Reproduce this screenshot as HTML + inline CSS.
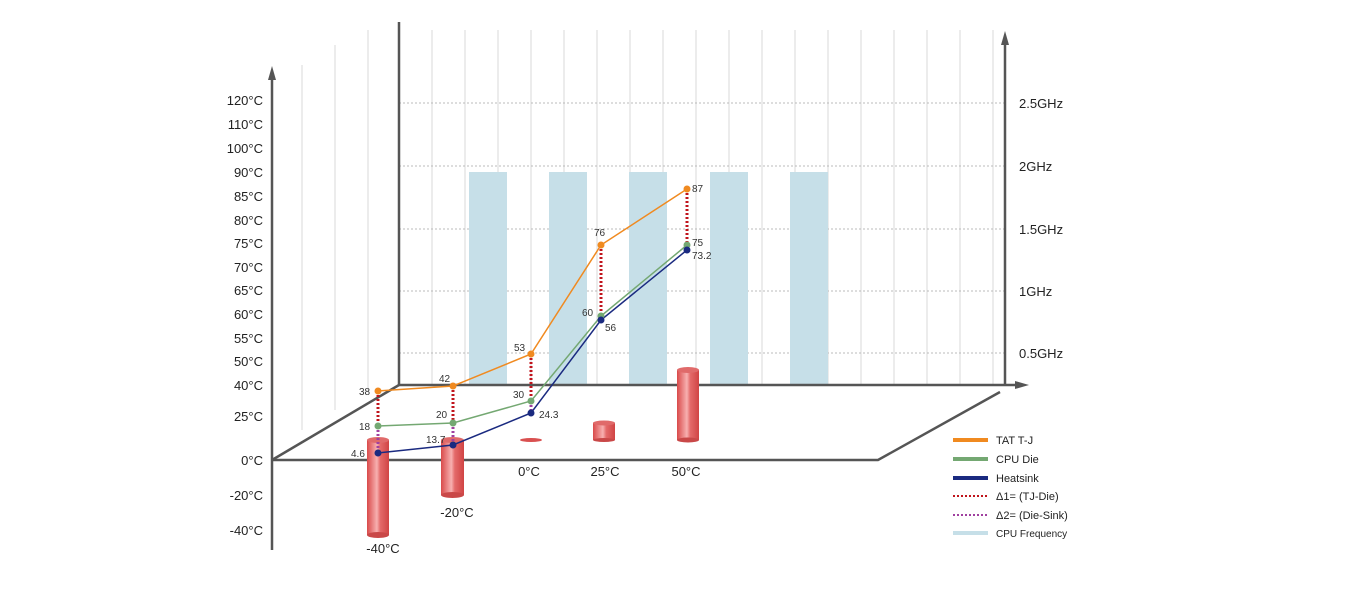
<!DOCTYPE html>
<html><head><meta charset="utf-8"><style>body{margin:0;background:#fff}svg{display:block}text{font-family:"Liberation Sans",sans-serif}</style></head><body>
<svg width="1354" height="590" viewBox="0 0 1354 590" xmlns="http://www.w3.org/2000/svg">
<defs>
<linearGradient id="cyl" x1="0" x2="1"><stop offset="0" stop-color="#d94a4a"/><stop offset="0.45" stop-color="#f7b0b0"/><stop offset="0.6" stop-color="#e46a6a"/><stop offset="1" stop-color="#d04444"/></linearGradient>
</defs>
<g stroke="#d8d8d8" stroke-width="1">
<line x1="302" y1="65" x2="302" y2="430"/><line x1="335" y1="45" x2="335" y2="410"/><line x1="368" y1="30" x2="368" y2="392"/>
<line x1="432" y1="30" x2="432" y2="385"/><line x1="465" y1="30" x2="465" y2="385"/><line x1="498" y1="30" x2="498" y2="385"/><line x1="531" y1="30" x2="531" y2="385"/><line x1="564" y1="30" x2="564" y2="385"/><line x1="597" y1="30" x2="597" y2="385"/><line x1="630" y1="30" x2="630" y2="385"/><line x1="663" y1="30" x2="663" y2="385"/><line x1="696" y1="30" x2="696" y2="385"/><line x1="729" y1="30" x2="729" y2="385"/><line x1="762" y1="30" x2="762" y2="385"/><line x1="795" y1="30" x2="795" y2="385"/><line x1="828" y1="30" x2="828" y2="385"/><line x1="861" y1="30" x2="861" y2="385"/><line x1="894" y1="30" x2="894" y2="385"/><line x1="927" y1="30" x2="927" y2="385"/><line x1="960" y1="30" x2="960" y2="385"/><line x1="993" y1="30" x2="993" y2="385"/>
</g>
<g stroke="#bbb" stroke-dasharray="2,2"><line x1="399" y1="103" x2="1005" y2="103"/><line x1="399" y1="166" x2="1005" y2="166"/><line x1="399" y1="229" x2="1005" y2="229"/><line x1="399" y1="291" x2="1005" y2="291"/><line x1="399" y1="353" x2="1005" y2="353"/></g>
<g fill="#c6dfe8"><rect x="469" y="172" width="38" height="213"/><rect x="549" y="172" width="38" height="213"/><rect x="629" y="172" width="38" height="213"/><rect x="710" y="172" width="38" height="213"/><rect x="790" y="172" width="38" height="213"/></g>
<g stroke="#555" stroke-width="2.5" fill="none">
<line x1="272" y1="550" x2="272" y2="72"/><line x1="399" y1="385" x2="399" y2="22"/><line x1="399" y1="385" x2="1022" y2="385"/><line x1="1005" y1="385" x2="1005" y2="38"/>
<polyline points="272,460 878,460 1000,392"/><line x1="272" y1="460" x2="399" y2="385"/>
</g>
<g fill="#555"><path d="M268,80 L272,66 L276,80Z"/><path d="M1001,45 L1005,31 L1009,45Z"/><path d="M1015,381 L1029,385 L1015,389Z"/></g>
<g font-size="13" fill="#222" text-anchor="end">
<text x="263" y="105">120°C</text><text x="263" y="129">110°C</text><text x="263" y="153">100°C</text><text x="263" y="177">90°C</text><text x="263" y="201">85°C</text><text x="263" y="225">80°C</text><text x="263" y="248">75°C</text><text x="263" y="272">70°C</text><text x="263" y="295">65°C</text><text x="263" y="319">60°C</text><text x="263" y="343">55°C</text><text x="263" y="366">50°C</text><text x="263" y="390">40°C</text><text x="263" y="421">25°C</text><text x="263" y="465">0°C</text><text x="263" y="500">-20°C</text><text x="263" y="535">-40°C</text>
</g>
<g font-size="13" fill="#222"><text x="1019" y="108">2.5GHz</text><text x="1019" y="171">2GHz</text><text x="1019" y="234">1.5GHz</text><text x="1019" y="296">1GHz</text><text x="1019" y="358">0.5GHz</text></g>
<g fill="url(#cyl)">
<rect x="367" y="440" width="22" height="95"/><ellipse cx="378" cy="535" rx="11" ry="3" fill="#c94848"/><ellipse cx="378" cy="440" rx="11" ry="3" fill="#e06a6a"/>
<rect x="441" y="440" width="23" height="55"/><ellipse cx="452.5" cy="495" rx="11.5" ry="3" fill="#c94848"/><ellipse cx="452.5" cy="440" rx="11.5" ry="3" fill="#e06a6a"/>
<ellipse cx="531" cy="440" rx="11" ry="2" fill="#d95050"/>
<rect x="593" y="423" width="22" height="17"/><ellipse cx="604" cy="440" rx="11" ry="2" fill="#c94848"/><ellipse cx="604" cy="423" rx="11" ry="2.5" fill="#e06a6a"/>
<rect x="677" y="370" width="22" height="70"/><ellipse cx="688" cy="440" rx="11" ry="2.5" fill="#c94848"/><ellipse cx="688" cy="370" rx="11" ry="3" fill="#e06a6a"/>
</g>
<g stroke="#c0141c" stroke-width="3" stroke-dasharray="2,2"><line x1="378" y1="391" x2="378" y2="426"/><line x1="453" y1="386" x2="453" y2="423"/><line x1="531" y1="354" x2="531" y2="401"/><line x1="601" y1="245" x2="601" y2="316"/><line x1="687" y1="189" x2="687" y2="245"/></g>
<g stroke="#a040a0" stroke-width="3" stroke-dasharray="2,2"><line x1="378" y1="426" x2="378" y2="453"/><line x1="453" y1="423" x2="453" y2="445"/><line x1="531" y1="401" x2="531" y2="413"/></g>
<polyline points="378,391 453,386 531,354 601,245 687,189" fill="none" stroke="#f08a20" stroke-width="1.5"/>
<polyline points="378,426 453,423 531,401 601,316 687,245" fill="none" stroke="#74a872" stroke-width="1.5"/>
<polyline points="378,453 453,445 531,413 601,320 687,250" fill="none" stroke="#1a2a80" stroke-width="1.5"/>
<g fill="#f08a20"><circle cx="378" cy="391" r="3.5"/><circle cx="453" cy="386" r="3.5"/><circle cx="531" cy="354" r="3.5"/><circle cx="601" cy="245" r="3.5"/><circle cx="687" cy="189" r="3.5"/></g>
<g fill="#74a872"><circle cx="378" cy="426" r="3.5"/><circle cx="453" cy="423" r="3.5"/><circle cx="531" cy="401" r="3.5"/><circle cx="601" cy="316" r="3.5"/><circle cx="687" cy="245" r="3.5"/></g>
<g fill="#1a2a80"><circle cx="378" cy="453" r="3.5"/><circle cx="453" cy="445" r="3.5"/><circle cx="531" cy="413" r="3.5"/><circle cx="601" cy="320" r="3.5"/><circle cx="687" cy="250" r="3.5"/></g>
<g font-size="10" fill="#333">
<text x="359" y="395">38</text><text x="439" y="382">42</text><text x="514" y="351">53</text><text x="594" y="236">76</text><text x="692" y="192">87</text>
<text x="359" y="430">18</text><text x="436" y="418">20</text><text x="513" y="398">30</text><text x="582" y="316">60</text><text x="692" y="246">75</text>
<text x="351" y="457">4.6</text><text x="426" y="443">13.7</text><text x="539" y="418">24.3</text><text x="605" y="331">56</text><text x="692" y="259">73.2</text>
</g>
<g font-size="13" fill="#222" text-anchor="middle"><text x="383" y="553">-40°C</text><text x="457" y="517">-20°C</text><text x="529" y="476">0°C</text><text x="605" y="476">25°C</text><text x="686" y="476">50°C</text></g>
<g stroke-width="4"><line x1="953" y1="440" x2="988" y2="440" stroke="#f08a20"/><line x1="953" y1="459" x2="988" y2="459" stroke="#74a872"/><line x1="953" y1="478" x2="988" y2="478" stroke="#1a2a80"/><line x1="953" y1="533" x2="988" y2="533" stroke="#c6dfe8"/></g>
<g stroke-width="2" stroke-dasharray="2,2"><line x1="953" y1="496" x2="988" y2="496" stroke="#c0141c"/><line x1="953" y1="515" x2="988" y2="515" stroke="#a040a0"/></g>
<g font-size="11" fill="#222"><text x="996" y="444">TAT T-J</text><text x="996" y="463">CPU Die</text><text x="996" y="482">Heatsink</text><text x="996" y="500">Δ1= (TJ-Die)</text><text x="996" y="519">Δ2= (Die-Sink)</text><text x="996" y="537" font-size="10">CPU Frequency</text></g>
</svg>
</body></html>
